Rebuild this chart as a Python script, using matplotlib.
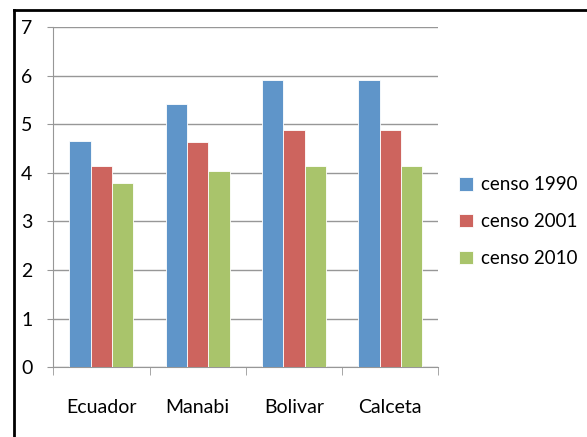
import numpy as np
import matplotlib.pyplot as plt
from matplotlib.lines import Line2D

plt.rcParams['font.family'] = ['Lato', 'DejaVu Sans']

# datos
categorias = ['Ecuador', 'Manabi', 'Bolivar', 'Calceta']
censo_1990 = [4.66, 5.41, 5.90, 5.90]
censo_2001 = [4.14, 4.64, 4.89, 4.89]
censo_2010 = [3.80, 4.04, 4.14, 4.14]
series = ['censo 1990', 'censo 2001', 'censo 2010']
colores = ['#5F95C9', '#CD645E', '#A9C46B']

fig = plt.figure(figsize=(5.87, 4.37), dpi=100)
ax = fig.add_axes([0.0908, 0.1595, 0.656, 0.7787])

x = np.arange(len(categorias))
w = 0.222
for k, (vals, nombre, c) in enumerate(zip([censo_1990, censo_2001, censo_2010], series, colores)):
    ax.bar(x + (k - 1) * w, vals, w, color=c, edgecolor='white', linewidth=0.6,
           label=nombre, zorder=3)

ax.set_xlim(-0.5, len(categorias) - 0.5)
ax.set_ylim(0, 7)
ax.set_yticks(range(0, 8))
ax.yaxis.grid(True, color='#979797', linewidth=1, zorder=0)

ax.set_xticks(x)
ax.set_xticklabels(categorias)
ax.set_xticks(np.arange(-0.5, len(categorias)), minor=True)
ax.tick_params(axis='x', which='major', length=0, pad=23, labelsize=14)
ax.tick_params(axis='x', which='minor', length=6, color='#979797', direction='out')
ax.tick_params(axis='y', length=4, color='#979797', pad=11, labelsize=14)

for lado in ['top', 'right']:
    ax.spines[lado].set_visible(False)
for lado in ['left', 'bottom']:
    ax.spines[lado].set_color('#979797')

ax.legend(loc='center left', bbox_to_anchor=(1.035, 0.428), frameon=False,
          fontsize=13.5, handlelength=0.72, handleheight=0.72, handletextpad=0.45,
          labelspacing=1.05, borderaxespad=0)

# marco
fig.add_artist(Line2D([14/587, 1], [1 - 10/437, 1 - 10/437], color='black', lw=2))
fig.add_artist(Line2D([14/587, 14/587], [0, 1 - 10/437], color='black', lw=2))

fig.savefig('out.png', dpi=100)
